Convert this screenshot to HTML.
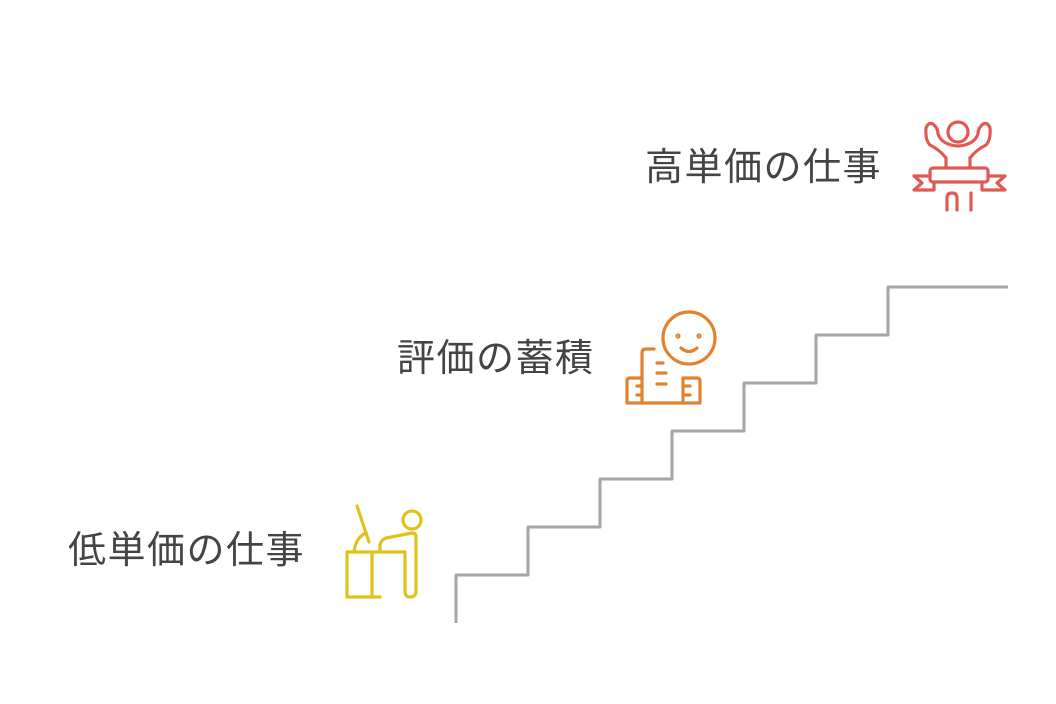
<!DOCTYPE html>
<html><head><meta charset="utf-8"><style>
html,body{margin:0;padding:0;background:#fff;width:1056px;height:704px;overflow:hidden}
.t{position:absolute;font-family:"Liberation Sans","Noto Sans CJK JP",sans-serif;font-size:38px;color:#444;letter-spacing:1.5px;white-space:nowrap;line-height:1}
</style></head><body>
<div class="t" style="left:645px;top:149px">高単価の仕事</div>
<div class="t" style="left:397px;top:340px">評価の蓄積</div>
<div class="t" style="left:68px;top:532px">低単価の仕事</div>
<svg width="1056" height="704" style="position:absolute;left:0;top:0" fill="none" stroke-linecap="round" stroke-linejoin="round">
<path d="M456 623V575H528V527H600V479H672V431H744V383H816V335H888V287H1008" stroke="#a6a6a6" stroke-width="3" stroke-linecap="butt"/>
<g stroke="#e05a53" stroke-width="3.2">
<circle cx="958" cy="132" r="10"/>
<path d="M946 158 Q940 150 930 145 Q925 140 926 128 Q928 122 933 124 Q938 128 938 134 Q942 145 958 146 Q974 145 978 134 Q978 128 983 124 Q988 122 990 128 Q991 140 986 145 Q976 150 970 158"/>
<path d="M946 158V168M970 158V168"/>
<rect x="930" y="168" width="58" height="14" rx="3"/>
<path d="M930 176H914L922 183L914 190H934V182M988 176H1005L997 183L1005 190H982V182"/>
<path d="M947 210V198Q947 193 952 193Q957 193 957 198V210M971 193V210"/>
</g>
<g stroke="#e0822e" stroke-width="3.2">
<circle cx="689" cy="338" r="26"/>
<circle cx="678" cy="336" r="1"/><circle cx="699" cy="336" r="1"/>
<path d="M681 348Q689 355 697 348"/>
<path d="M642 403V353Q642 349 646 349H654"/>
<path d="M627 403V381Q627 378 630 378H642M683 378H697Q700 378 700 381V403H627"/>
<path d="M657 363H663M657 373H666M657 384H666M637 386H642M637 395H642M685 386H690M685 395H690"/>
<path d="M683 378V403"/>
</g>
<g stroke="#e0c21c" stroke-width="3.2">
<circle cx="412" cy="520" r="9"/>
<path d="M357 506L369 542"/>
<path d="M354 552Q356 537 366 533"/>
<path d="M347 552H405V591Q405 597 410 597Q416 597 416 591V537Q416 533 412 533L386 538Q381 540 380 545V552"/>
<path d="M347 552V597H380M372 552V597"/>
</g>
</svg>
</body></html>
